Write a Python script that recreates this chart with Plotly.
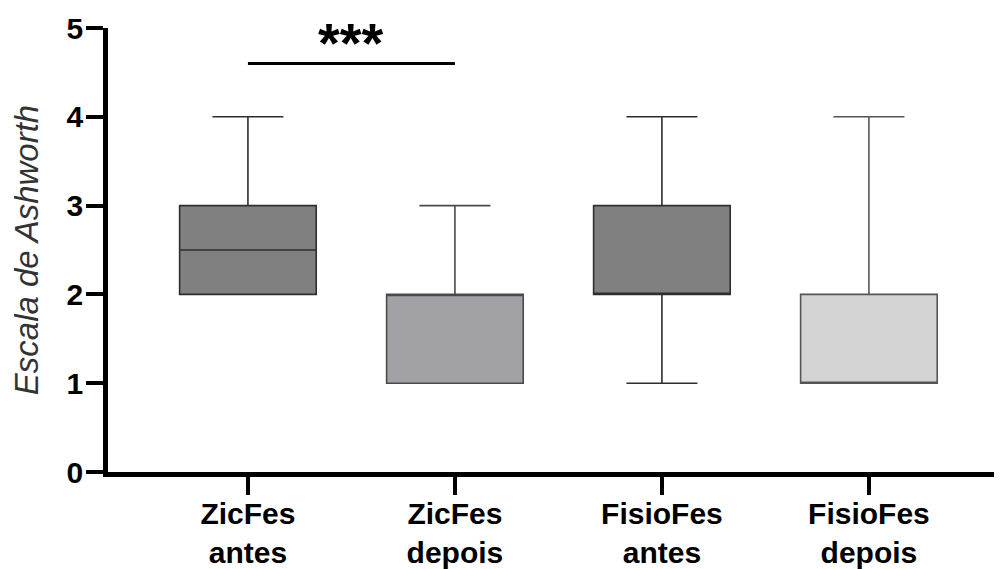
import plotly.graph_objects as go

categories = ["ZicFes<br>antes", "ZicFes<br>depois", "FisioFes<br>antes", "FisioFes<br>depois"]
q1_vals = [2, 1, 2, 1]
median_vals = [2.5, 2, 2, 1]
q3_vals = [3, 2, 3, 2]
lower_vals = [2, 1, 1, 1]
upper_vals = [4, 3, 4, 4]
fill_colors = ["#808080", "#a2a1a6", "#808080", "#d4d4d4"]
line_colors = ["#2e2e2e", "#4a4a4a", "#2e2e2e", "#555555"]
y_ticks = [0, 1, 2, 3, 4, 5]
sig_pair = [0, 1]
sig_level = 4.6
sig_text = "<b>***</b>"

FONT = "Arial, Liberation Sans, sans-serif"

fig = go.Figure()
for i, cat in enumerate(categories):
    fig.add_trace(go.Box(
        x=[cat],
        q1=[q1_vals[i]], median=[median_vals[i]], q3=[q3_vals[i]],
        lowerfence=[lower_vals[i]], upperfence=[upper_vals[i]],
        fillcolor=fill_colors[i],
        line=dict(color=line_colors[i], width=1.6),
        width=0.66,
        whiskerwidth=0.52,
        boxpoints=False,
        showlegend=False,
        hoverinfo="skip",
    ))

fig.add_shape(type="line", xref="x", yref="y",
              x0=sig_pair[0], x1=sig_pair[1], y0=sig_level, y1=sig_level,
              line=dict(color="black", width=3))
fig.add_annotation(x=(sig_pair[0] + sig_pair[1]) / 2, y=sig_level, xref="x", yref="y",
                   text=sig_text, showarrow=False, yanchor="bottom", yshift=-12,
                   font=dict(family=FONT, size=56, color="black"))

fig.update_layout(
    width=1002, height=569,
    margin=dict(l=100, r=8, t=20, b=105),
    paper_bgcolor="white", plot_bgcolor="white",
    boxmode="overlay",
    font=dict(family=FONT, color="black"),
)
fig.update_xaxes(
    type="category",
    categoryorder="array", categoryarray=categories,
    range=[-0.676, 3.643],
    automargin=False,
    showline=True, linewidth=4.5, linecolor="black",
    ticks="outside", ticklen=18, tickwidth=4, tickcolor="black",
    ticklabelstandoff=-7,
    tickfont=dict(family=FONT, size=30, color="black", weight="bold"),
    showgrid=False, zeroline=False,
)
fig.update_yaxes(
    range=[0, 5],
    automargin=False,
    tickvals=y_ticks, ticktext=[str(v) for v in y_ticks],
    showline=True, linewidth=4.5, linecolor="black",
    ticks="outside", ticklen=17, tickwidth=4, tickcolor="black",
    ticklabelstandoff=-3,
    tickfont=dict(family=FONT, size=30, color="black", weight="bold"),
    showgrid=False, zeroline=False,
    title=dict(text="<i>Escala de Ashworth</i>", standoff=22,
               font=dict(family=FONT, size=33, color="#333333")),
)

fig.write_html("out.html")
